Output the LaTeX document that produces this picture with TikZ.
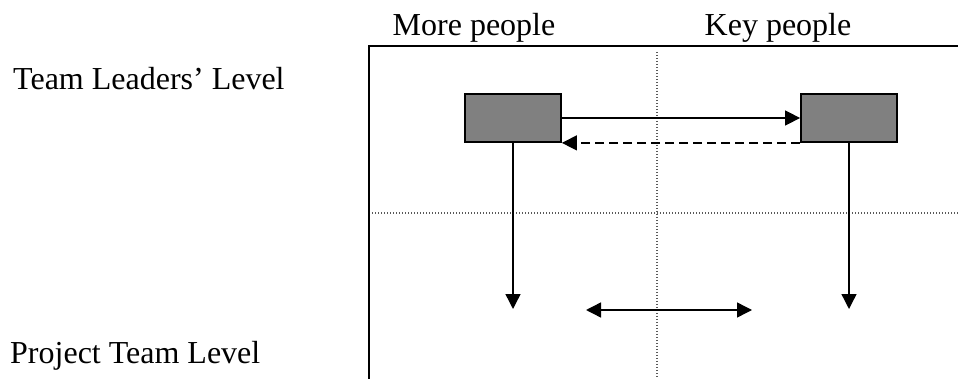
\documentclass[tikz,border=0pt]{standalone}
\usepackage{fontspec}
\setmainfont{Liberation Serif}
\usetikzlibrary{arrows.meta}
\begin{document}
\begin{tikzpicture}[x=1pt,y=-1pt,
  label text/.style={font=\fontsize{32}{36}\selectfont, inner sep=0pt},
  leader/.style={draw=black, line width=1.8pt, fill=black!50, minimum width=96pt, minimum height=48pt, inner sep=0pt},
  frame/.style={line width=1.6pt},
  grid line/.style={draw=black!65, line width=1.3pt, dash pattern=on 1.4pt off 1.6pt},
  flow/.style={line width=1.4pt, -{Triangle[length=15pt,width=15pt]}},
  both flow/.style={line width=1.4pt, {Triangle[length=15pt,width=15pt]}-{Triangle[length=15pt,width=15pt]}}]
  \useasboundingbox (0,0) rectangle (958,379);

  % level and column labels
  \node[label text, anchor=base west] (tl) at (13,90) {Team Leaders’ Level};
  \node[label text, anchor=base west] (pt) at (10,363) {Project Team Level};
  \node[label text, anchor=base] (more) at (474,36) {More people};
  \node[label text, anchor=base] (key) at (778,36) {Key people};

  % frame and quadrant dividers
  \draw[frame] (369,379) -- (369,46) -- (958,46);
  \draw[grid line] (657,52) -- (657,379);
  \draw[grid line] (372,213) -- (958,213);

  % team leaders
  \node[leader] (lb) at (513,118) {};
  \node[leader] (rb) at (849,118) {};

  \coordinate (ld) at (513,309);
  \coordinate (rd) at (849,309);
  \coordinate (ml) at (586,310);
  \coordinate (mr) at (752,310);

  \draw[flow] (lb.east) -- (rb.west);
  \draw[flow, dash pattern=on 9pt off 5pt] (rb.south west) -- (lb.south east);
  \draw[flow] (lb.south) -- (ld);
  \draw[flow] (rb.south) -- (rd);
  \draw[both flow] (ml) -- (mr);
\end{tikzpicture}
\end{document}
